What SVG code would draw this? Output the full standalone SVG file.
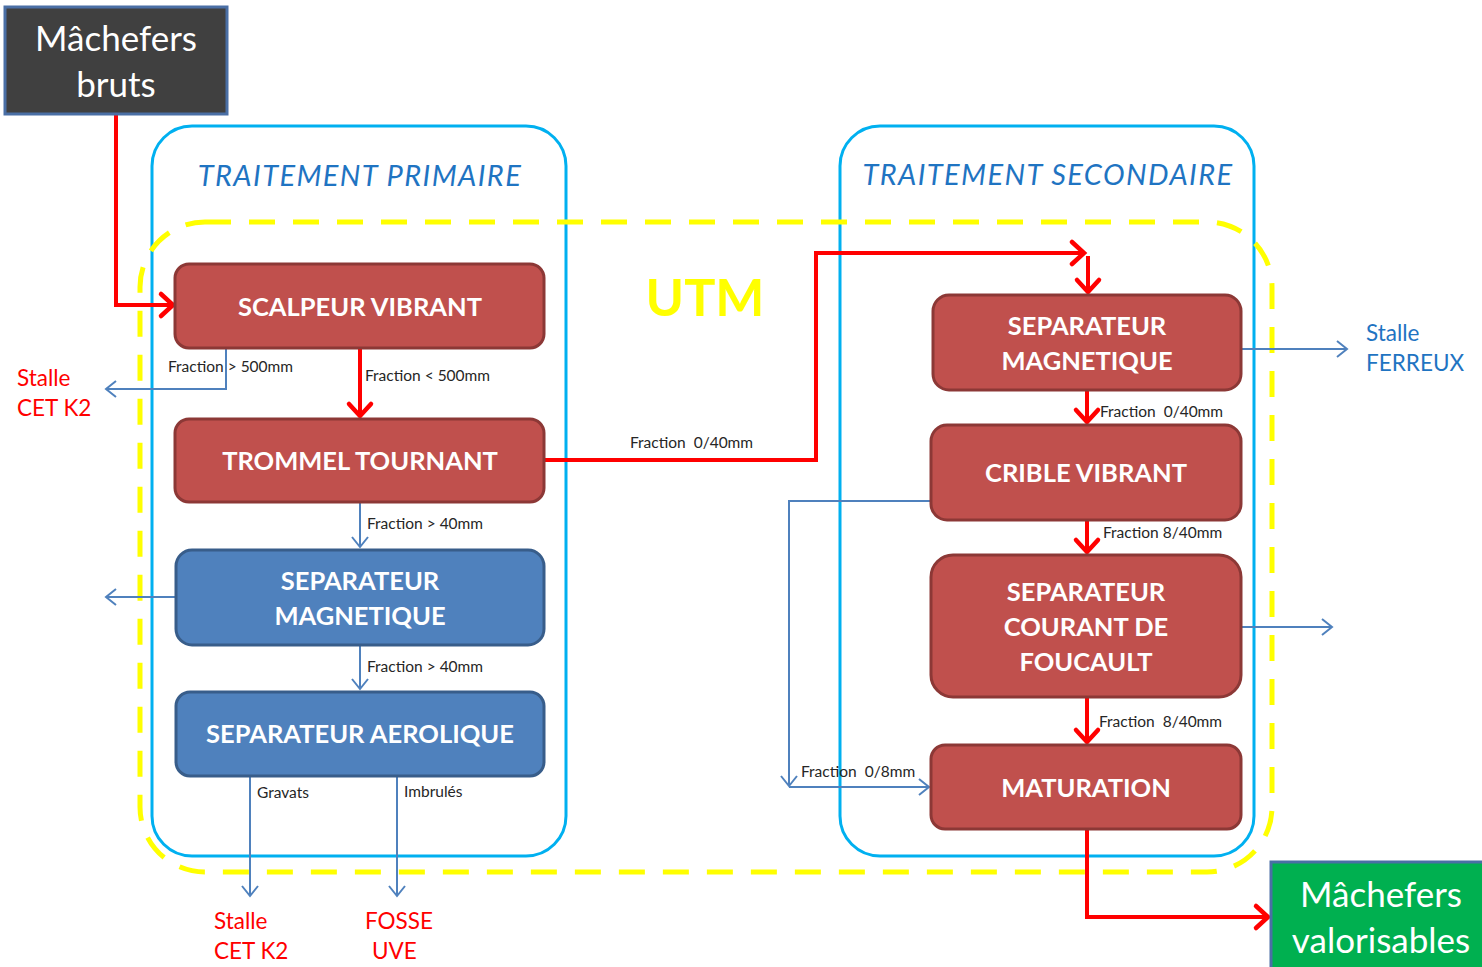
<svg xmlns="http://www.w3.org/2000/svg" width="1482" height="967" viewBox="0 0 1482 967">
<defs>
<style>
.red{fill:#c0504d;stroke:#8c3836;stroke-width:3}
.blue{fill:#4f81bd;stroke:#385d8a;stroke-width:3}
.nt{font-family:Lato,"Liberation Sans",sans-serif;font-weight:bold;font-size:25.5px;fill:#fff;text-anchor:middle}
.big{font-family:Lato,"Liberation Sans",sans-serif;font-size:35px;fill:#fff;text-anchor:middle}
.ttl{font-family:Lato,"Liberation Sans",sans-serif;font-style:italic;font-size:29px;fill:#1f74c2;text-anchor:middle;letter-spacing:1.4px}
.lbl{font-family:Lato,"Liberation Sans",sans-serif;font-size:15.5px;fill:#262626;white-space:pre}
.out{font-family:Lato,"Liberation Sans",sans-serif;font-size:22.5px}
.rl{fill:none;stroke:#ff0000;stroke-width:4}
.bl{fill:none;stroke:#4f81bd;stroke-width:2}
</style>
<marker id="ar" markerUnits="userSpaceOnUse" viewBox="-16 -14 20 28" refX="0" refY="0" markerWidth="20" markerHeight="28" orient="auto" overflow="visible">
<path d="M-12,-11 L0,0 L-12,11" fill="none" stroke="#ff0000" stroke-width="4.5" stroke-linecap="round" stroke-linejoin="miter"/>
</marker>
<marker id="ab" markerUnits="userSpaceOnUse" viewBox="-14 -10 16 20" refX="0" refY="0" markerWidth="16" markerHeight="20" orient="auto" overflow="visible">
<path d="M-10,-8 L0,0 L-10,8" fill="none" stroke="#4f81bd" stroke-width="2"/>
</marker>
</defs>
<rect width="1482" height="967" fill="#ffffff"/>

<g id="zones">
<rect x="152" y="126" width="414" height="730" rx="40" fill="none" stroke="#00b0f0" stroke-width="3"/>
<rect x="840" y="126" width="414" height="730" rx="40" fill="none" stroke="#00b0f0" stroke-width="3"/>
<rect x="140" y="222" width="1132" height="650" rx="65" fill="none" stroke="#ffff00" stroke-width="5" stroke-dasharray="26 18"/>
<text class="ttl" x="360" y="186">TRAITEMENT PRIMAIRE</text>
<text class="ttl" x="1048" y="185">TRAITEMENT SECONDAIRE</text>
<text x="705" y="316" font-family="Lato,'Liberation Sans',sans-serif" font-weight="bold" font-size="52" fill="#ffff00" text-anchor="middle">UTM</text>
</g>

<g id="connectors">
<path class="rl" d="M116,114 V305 H173" marker-end="url(#ar)"/>
<path class="rl" d="M360,348 V416" marker-end="url(#ar)"/>
<path class="bl" d="M226,348 V389 H106" marker-end="url(#ab)"/>
<path class="bl" d="M360,502 V547" marker-end="url(#ab)"/>
<path class="bl" d="M176,597 H106" marker-end="url(#ab)"/>
<path class="bl" d="M360,645 V689" marker-end="url(#ab)"/>
<path class="bl" d="M250,776 V896" marker-end="url(#ab)"/>
<path class="bl" d="M397,776 V896" marker-end="url(#ab)"/>
<path class="rl" d="M544,460 H816 V253 H1084" marker-end="url(#ar)"/>
<path class="rl" d="M1088,256 V292" marker-end="url(#ar)"/>
<path class="bl" d="M1241,349 H1347" marker-end="url(#ab)"/>
<path class="rl" d="M1087,390 V422" marker-end="url(#ar)"/>
<path class="rl" d="M1087,520 V552" marker-end="url(#ar)"/>
<path class="bl" d="M1241,627 H1332" marker-end="url(#ab)"/>
<path class="rl" d="M1087,697 V742" marker-end="url(#ar)"/>
<path class="bl" d="M931,501 H789 V786" marker-end="url(#ab)"/>
<path class="bl" d="M789,787 H929" marker-end="url(#ab)"/>
<path class="rl" d="M1087,829 V917 H1268" marker-end="url(#ar)"/>
<text class="lbl" x="168" y="372">Fraction &gt; 500mm</text>
<text class="lbl" x="365" y="381">Fraction &lt; 500mm</text>
<text class="lbl" x="367" y="529">Fraction &gt; 40mm</text>
<text class="lbl" x="367" y="672">Fraction &gt; 40mm</text>
<text class="lbl" x="257" y="798">Gravats</text>
<text class="lbl" x="404" y="797">Imbrulés</text>
<text class="lbl" x="630" y="448">Fraction  0/40mm</text>
<text class="lbl" x="1100" y="417">Fraction  0/40mm</text>
<text class="lbl" x="1103" y="538">Fraction 8/40mm</text>
<text class="lbl" x="1099" y="727">Fraction  8/40mm</text>
<text class="lbl" x="801" y="777">Fraction  0/8mm</text>
</g>

<g id="outputs">
<text class="out" fill="#ff0000" x="17" y="386">Stalle</text>
<text class="out" fill="#ff0000" x="17" y="416">CET K2</text>
<text class="out" fill="#ff0000" x="214" y="929">Stalle</text>
<text class="out" fill="#ff0000" x="214" y="959">CET K2</text>
<text class="out" fill="#ff0000" x="365" y="929">FOSSE</text>
<text class="out" fill="#ff0000" x="372" y="959">UVE</text>
<text class="out" fill="#1f74c2" x="1366" y="341">Stalle</text>
<text class="out" fill="#1f74c2" x="1366" y="371">FERREUX</text>
</g>

<g id="n-bruts">
<rect x="5" y="7" width="222" height="107" fill="#404040" stroke="#4a6fa5" stroke-width="3"/>
<text class="big" x="116" y="51">Mâchefers</text>
<text class="big" x="116" y="97">bruts</text>
</g>
<g id="n-valorisables">
<rect x="1271" y="862" width="213" height="107" fill="#00b050" stroke="#4a6fa5" stroke-width="3"/>
<text class="big" x="1381" y="907">Mâchefers</text>
<text class="big" x="1381" y="953">valorisables</text>
</g>
<g id="n-scalpeur">
<rect class="red" x="175" y="264" width="369" height="84" rx="14"/>
<text class="nt" x="360" y="316">SCALPEUR VIBRANT</text>
</g>
<g id="n-trommel">
<rect class="red" x="175" y="419" width="369" height="83" rx="14"/>
<text class="nt" x="360" y="470">TROMMEL TOURNANT</text>
</g>
<g id="n-sepmag1">
<rect class="blue" x="176" y="550" width="368" height="95" rx="16"/>
<text class="nt" x="360" y="590">SEPARATEUR</text>
<text class="nt" x="360" y="625">MAGNETIQUE</text>
</g>
<g id="n-aero">
<rect class="blue" x="176" y="692" width="368" height="84" rx="14"/>
<text class="nt" x="360" y="743">SEPARATEUR AEROLIQUE</text>
</g>
<g id="n-sepmag2">
<rect class="red" x="933" y="295" width="308" height="95" rx="16"/>
<text class="nt" x="1087" y="335">SEPARATEUR</text>
<text class="nt" x="1087" y="370">MAGNETIQUE</text>
</g>
<g id="n-crible">
<rect class="red" x="931" y="425" width="310" height="95" rx="16"/>
<text class="nt" x="1086" y="482">CRIBLE VIBRANT</text>
</g>
<g id="n-foucault">
<rect class="red" x="931" y="555" width="310" height="142" rx="22"/>
<text class="nt" x="1086" y="601">SEPARATEUR</text>
<text class="nt" x="1086" y="636">COURANT DE</text>
<text class="nt" x="1086" y="671">FOUCAULT</text>
</g>
<g id="n-maturation">
<rect class="red" x="931" y="745" width="310" height="84" rx="14"/>
<text class="nt" x="1086" y="797">MATURATION</text>
</g>
</svg>
